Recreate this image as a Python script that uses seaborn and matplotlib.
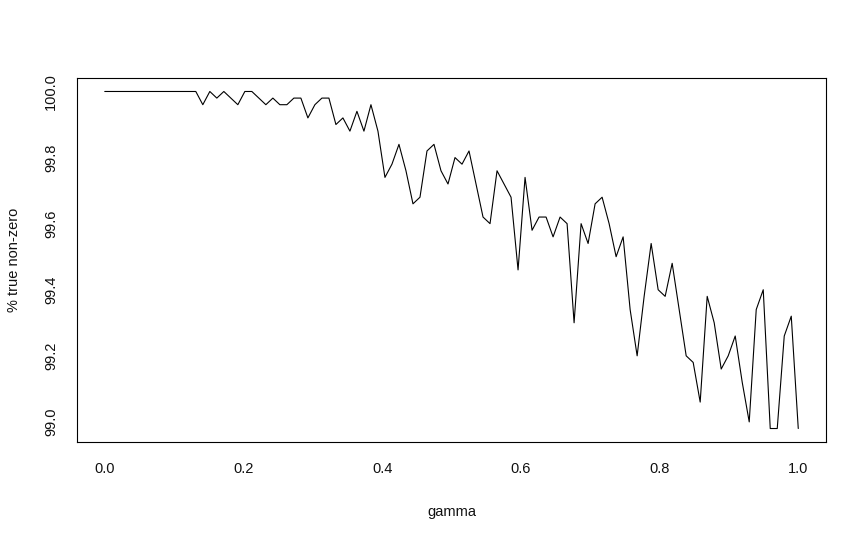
import numpy as np
import pandas as pd
import matplotlib
matplotlib.use("Agg")
import matplotlib.pyplot as plt
import seaborn as sns

# gamma grid: 100 evenly spaced values from 0 to 1
gamma = np.linspace(0.0, 1.0, 100)

pct_true_nonzero = [
    100, 100, 100, 100, 100, 100, 100, 100, 100, 100,
    100, 100, 100, 100, 99.96, 100, 99.98, 100, 99.98, 99.96,
    100, 100, 99.98, 99.96, 99.98, 99.96, 99.96, 99.98, 99.98, 99.92,
    99.96, 99.98, 99.98, 99.90, 99.92, 99.88, 99.94, 99.88, 99.96, 99.88,
    99.74, 99.78, 99.84, 99.76, 99.66, 99.68, 99.82, 99.84, 99.76, 99.72,
    99.80, 99.78, 99.82, 99.72, 99.62, 99.60, 99.76, 99.72, 99.68, 99.46,
    99.74, 99.58, 99.62, 99.62, 99.56, 99.62, 99.60, 99.30, 99.60, 99.54,
    99.66, 99.68, 99.60, 99.50, 99.56, 99.34, 99.20, 99.38, 99.54, 99.40,
    99.38, 99.48, 99.34, 99.20, 99.18, 99.06, 99.38, 99.30, 99.16, 99.20,
    99.26, 99.12, 99.00, 99.34, 99.40, 98.98, 98.98, 99.26, 99.32, 98.98,
]

x_ticks = [0.0, 0.2, 0.4, 0.6, 0.8, 1.0]
x_tick_labels = ["0.0", "0.2", "0.4", "0.6", "0.8", "1.0"]
y_ticks = [99.0, 99.2, 99.4, 99.6, 99.8, 100.0]
y_tick_labels = ["99.0", "99.2", "99.4", "99.6", "99.8", "100.0"]

df = pd.DataFrame({"gamma": gamma, "pct": pct_true_nonzero})

sns.set_theme(style="white")
plt.rcParams["font.family"] = ["Liberation Sans", "DejaVu Sans"]

fig = plt.figure(figsize=(8.66, 5.40), dpi=100)
fig.patch.set_facecolor("white")
W, H = 866, 540
left, right, top, bottom = 77, 826, 78, 442
ax = fig.add_axes([left / W, 1 - bottom / H, (right - left) / W, (bottom - top) / H])
ax.set_facecolor("white")

sns.lineplot(data=df, x="gamma", y="pct", color="black", linewidth=0.8, ax=ax)

# R-style 4% axis extension
xmin, xmax = 0.0, 1.0
ymin, ymax = min(pct_true_nonzero), max(pct_true_nonzero)
dx = (xmax - xmin) * 0.04
dy = (ymax - ymin) * 0.04
ax.set_xlim(xmin - dx, xmax + dx)
ax.set_ylim(ymin - dy, ymax + dy)

ax.set_xticks(x_ticks)
ax.set_xticklabels(x_tick_labels)
ax.set_yticks(y_ticks)
ax.set_yticklabels(y_tick_labels, rotation=90, va="center")

for s in ax.spines.values():
    s.set_visible(True)
    s.set_color("black")
    s.set_linewidth(0.8)

fs = 10.5
ax.tick_params(axis="both", which="major", direction="out", length=5.2, width=0.8,
               color="black", labelsize=fs, labelcolor="#111111")
ax.tick_params(axis="x", pad=9.5)
ax.tick_params(axis="y", pad=8.5)

ax.set_xlabel("gamma", fontsize=fs, color="#111111")
ax.set_ylabel("% true non-zero", fontsize=fs, color="#111111")
ax.xaxis.set_label_coords(0.5, -(512 - bottom) / (bottom - top))
ax.xaxis.label.set_va("center")
ax.yaxis.set_label_coords(-(left - 14) / (right - left), 0.5)
ax.yaxis.label.set_va("center")

fig.savefig("out.png", dpi=100, facecolor="white")
